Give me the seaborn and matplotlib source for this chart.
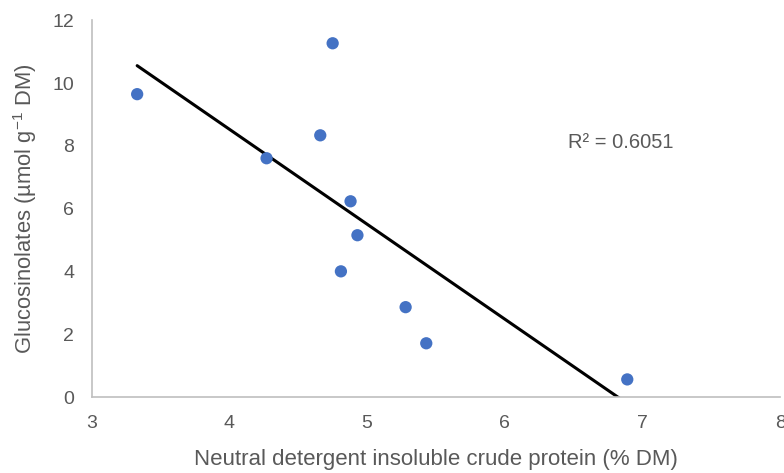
import numpy as np
import pandas as pd
import matplotlib
matplotlib.use("Agg")
import matplotlib.pyplot as plt
import seaborn as sns

ndicp = [3.33, 4.75, 4.66, 4.27, 4.88, 4.93, 4.81, 5.28, 5.43, 6.89]
gsl = [9.65, 11.27, 8.34, 7.61, 6.24, 5.16, 4.01, 2.87, 1.72, 0.57]
r2_label = "R² = 0.6051"
x_ticks = [3, 4, 5, 6, 7, 8]
y_ticks = [0, 2, 4, 6, 8, 10, 12]

df = pd.DataFrame({"x": ndicp, "y": gsl})

sns.set_style("white")
plt.rcParams["font.family"] = ["Liberation Sans", "DejaVu Sans"]
plt.rcParams["mathtext.fontset"] = "custom"
plt.rcParams["mathtext.rm"] = "Liberation Sans"

fig = plt.figure(figsize=(7.84, 4.73), dpi=100)
ax = fig.add_axes([0.117, 0.160, 0.878, 0.797])

sns.regplot(data=df, x="x", y="y", ax=ax, ci=None, truncate=True,
            scatter_kws=dict(s=78, color="#4472C4", edgecolor="none", alpha=1, zorder=3),
            line_kws=dict(color="black", lw=2.2, zorder=2))

ax.set_xlim(3, 8)
ax.set_ylim(0, 12)
ax.set_xticks(x_ticks)
ax.set_yticks(y_ticks)
gray = "#595959"
ax.tick_params(axis="both", colors=gray, labelsize=14, length=0)
ax.tick_params(axis="x", pad=13)
ax.tick_params(axis="y", pad=12.5)
for side in ["top", "right"]:
    ax.spines[side].set_visible(False)
for side in ["left", "bottom"]:
    ax.spines[side].set_color("#BFBFBF")
    ax.spines[side].set_linewidth(1.2)

ax.set_xlabel("Neutral detergent insoluble crude protein (% DM)", color=gray, fontsize=16, labelpad=12)
ax.set_ylabel(r"Glucosinolates (µmol g$^{\mathregular{-1}}$ DM)", color=gray, fontsize=15.8, labelpad=10)

ax.text(6.84, 8.1, r2_label, color=gray, fontsize=14.5, ha="center", va="center")

fig.savefig("out.png", dpi=100)
